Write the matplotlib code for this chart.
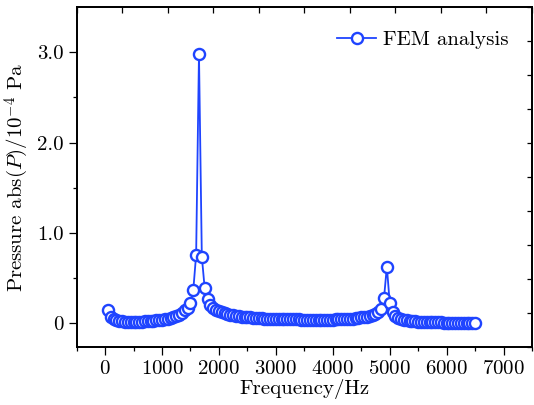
import matplotlib
matplotlib.use("Agg")
import matplotlib.pyplot as plt
from matplotlib.ticker import MultipleLocator, FixedLocator, NullFormatter

plt.rcParams['font.family'] = 'serif'
plt.rcParams['font.serif'] = ['cmr10', 'DejaVu Serif']
plt.rcParams['mathtext.fontset'] = 'cm'
plt.rcParams['axes.formatter.use_mathtext'] = True

freq = list(range(50, 6501, 50))
pressure = [
    0.150, 0.075, 0.050, 0.038, 0.030, 0.025, 0.021, 0.019, 0.018, 0.018,   # 50-500
    0.019, 0.020, 0.022, 0.024, 0.027, 0.030, 0.033, 0.036, 0.040, 0.044,   # 550-1000
    0.049, 0.055, 0.062, 0.071, 0.082, 0.097, 0.118, 0.147, 0.175, 0.230,   # 1050-1500
    0.370, 0.760, 2.980, 0.740, 0.390, 0.270, 0.210, 0.175, 0.150, 0.135,   # 1550-2000
    0.122, 0.112, 0.104, 0.097, 0.091, 0.086, 0.081, 0.077, 0.073, 0.070,   # 2050-2500
    0.067, 0.064, 0.061, 0.059, 0.057, 0.055, 0.053, 0.052, 0.051, 0.050,   # 2550-3000
    0.049, 0.048, 0.047, 0.047, 0.046, 0.046, 0.045, 0.045, 0.044, 0.044,   # 3050-3500
    0.044, 0.043, 0.043, 0.043, 0.043, 0.043, 0.043, 0.043, 0.044, 0.044,   # 3550-4000
    0.045, 0.046, 0.047, 0.048, 0.050, 0.052, 0.055, 0.058, 0.062, 0.067,   # 4050-4500
    0.070, 0.076, 0.084, 0.095, 0.110, 0.130, 0.160, 0.280, 0.630, 0.230,   # 4550-5000
    0.125, 0.085, 0.065, 0.052, 0.043, 0.037, 0.032, 0.028, 0.025, 0.022,   # 5050-5500
    0.020, 0.018, 0.016, 0.015, 0.014, 0.013, 0.012, 0.011, 0.010, 0.009,   # 5550-6000
    0.009, 0.008, 0.008, 0.007, 0.007, 0.006, 0.006, 0.005, 0.005, 0.004,   # 6050-6500
]

x_major = [0, 1000, 2000, 3000, 4000, 5000, 6000, 7000]
y_major = [0, 1.0, 2.0, 3.0]
y_labels = ['0', '1.0', '2.0', '3.0']

color = '#1f44ff'
fs = 15

fig = plt.figure(figsize=(5.34, 4.05), dpi=100)
ax = fig.add_axes([0.1434, 0.1432, 0.9963 - 0.1434, 0.9827 - 0.1432])

ax.plot(freq, pressure, '-o', color=color, lw=1.3, ms=8, mew=1.7,
        mfc='white', mec=color, label='FEM analysis')

ax.set_xlim(-500, 7500)
ax.set_ylim(-0.26, 3.5)

ax.xaxis.set_major_locator(FixedLocator(x_major))
ax.xaxis.set_minor_locator(MultipleLocator(500))
ax.yaxis.set_major_locator(FixedLocator(y_major))
ax.set_yticklabels(y_labels)
ax.yaxis.set_minor_locator(FixedLocator([0.5, 1.5, 2.5]))

ax.tick_params(which='major', direction='out', length=5.5, width=0.9, labelsize=fs)
ax.tick_params(which='minor', direction='out', length=3, width=0.9)
ax.tick_params(top=False, right=False)

for s in ax.spines.values():
    s.set_linewidth(1.1)

# top and right: ten equal divisions, inward ticks, no labels
axt = ax.twiny()
axt.set_xlim(0, 10)
axt.set_xticks(range(11))
axt.xaxis.set_major_formatter(NullFormatter())
axt.tick_params(axis='x', direction='in', length=4, width=0.9)
axr = ax.twinx()
axr.set_ylim(0, 10)
axr.set_yticks(range(11))
axr.yaxis.set_major_formatter(NullFormatter())
axr.tick_params(axis='y', direction='in', length=3.5, width=0.9)
for a in (axt, axr):
    for s in a.spines.values():
        s.set_linewidth(1.1)

ax.set_xlabel('Frequency/Hz', fontsize=fs, labelpad=1)
ax.set_ylabel(r'Pressure abs$(P)/10^{-4}$ Pa', fontsize=fs, labelpad=5)

ax.legend(loc='upper right', frameon=False, fontsize=fs, handlelength=1.9,
          handletextpad=0.3, borderaxespad=0, bbox_to_anchor=(0.966, 0.955))

fig.savefig('out.png', dpi=100)
